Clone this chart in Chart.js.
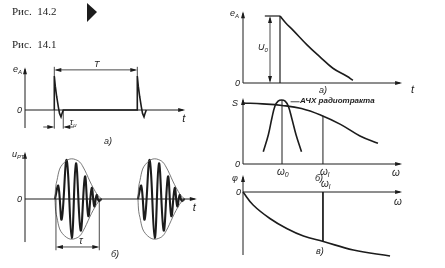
<!DOCTYPE html>
<html>
<head>
<meta charset="utf-8">
<script src="https://cdn.jsdelivr.net/npm/chart.js@4.4.1/dist/chart.umd.min.js"></script>
<style>
html, body { margin: 0; padding: 0; background: #fff; }
#wrap { position: relative; width: 445px; height: 268px; }
</style>
</head>
<body>
<div id="wrap"><canvas id="fig" width="445" height="268"></canvas></div>
<script>
// Рис. 14.1 а) - video pulses e_A(t), period T
const period = 10;
const pulseT = [3.53, 3.53, 3.65, 3.82, 4.01, 4.16, 4.34, 4.46, 4.61, 13.53, 13.53, 13.65, 13.82, 14.01, 14.16, 14.34, 14.46, 14.61];
const pulseE = [0, 1.0, 0.7, 0.39, 0.1, -0.1, -0.2, -0.1, 0, 0, 1.0, 0.7, 0.39, 0.1, -0.1, -0.2, -0.1, 0];
const pulseWidth = [3.53, 4.61];

// Рис. 14.1 б) - radio pulse u_PT(t): envelope and carrier (first pulse, repeats after T)
const envT = [3.61, 3.7, 3.85, 4.17, 4.5, 4.78, 5.2, 5.63, 6.1, 6.6, 7.0, 7.4, 7.8, 8.2, 8.8, 9.24];
const envA = [0, 0.3, 0.45, 0.73, 0.84, 0.9, 0.96, 0.98, 0.96, 0.9, 0.78, 0.62, 0.44, 0.28, 0.08, 0];
const carT = [3.61, 4.01, 4.42, 5.02, 5.63, 6.14, 6.71, 7.23, 7.63, 8.04, 8.35, 8.64, 8.88, 9.24];
const carA = [0, 0.32, -0.5, 0.95, -0.95, 0.87, -0.77, 0.55, -0.42, 0.27, -0.18, 0.1, -0.05, 0];
const tauRange = [3.73, 8.95];

// Рис. 14.2 а) - detector output e_A(t)
const topT = [0.59, 1.0];
const topE = [1, 1];
const decayT = [1.0, 1.15, 1.35, 1.73, 2.08, 2.43, 2.81, 2.97];
const decayE = [1.0, 0.9, 0.79, 0.57, 0.39, 0.22, 0.10, 0.04];
const stepT = 1.0;
const u0At = 0.73;

// Рис. 14.2 б) - S(ω) and АЧХ радиотракта
const omega0 = 1.0;
const omegaL = 2.05;
const sOmega = [0, 0.5, 1, 1.5, 2, 2.5, 3, 3.46];
const sValue = [1.0, 0.985, 0.96, 0.91, 0.8, 0.65, 0.46, 0.34];
const bellOmega = [0.52, 0.65, 0.74, 0.82, 0.9, 0.99, 1.08, 1.16, 1.25, 1.36, 1.5];
const bellValue = [0.2, 0.48, 0.75, 0.95, 1.03, 1.05, 1.03, 0.95, 0.75, 0.48, 0.2];

// Рис. 14.2 в) - phase φ(ω)
const phiOmega = [0, 0.26, 0.69, 1.12, 1.55, 2.06, 2.83, 3.77];
const phiValue = [0, -0.26, -0.53, -0.73, -0.88, -0.99, -1.16, -1.28];

const W = 445, H = 268;
const ink = '#1c1c1c';

// scale limits so that value v0 lands on pixel p0 and v1 on p1
function fitX(v0, p0, v1, p1) {
    const k = (p1 - p0) / (v1 - v0);
    return { min: v0 - p0 / k, max: v0 + (W - p0) / k };
}
function fitY(v0, p0, v1, p1) {
    const k = (p0 - p1) / (v1 - v0);
    return { min: v0 - (H - p0) / k, max: v0 + p0 / k };
}
function lin(lim) {
    return Object.assign({ type: 'linear', display: false, bounds: 'data' }, lim);
}
const pts = (xs, ys, dx = 0, sy = 1) => xs.map((x, i) => ({ x: x + dx, y: ys[i] * sy }));

function line(data, xAxisID, yAxisID, width, color, tension) {
    return { data, xAxisID, yAxisID, borderColor: color || ink, borderWidth: width || 1.5,
        tension: tension || 0, pointRadius: 0, fill: false };
}

const datasets = [
    line(pts(pulseT, pulseE), 'xa', 'ya', 1.6),
    line(pts(envT, envA), 'xa', 'yb', 0.8, '#555', 0.4),
    line(pts(envT, envA, 0, -1), 'xa', 'yb', 0.8, '#555', 0.4),
    line(pts(envT, envA, period), 'xa', 'yb', 0.8, '#555', 0.4),
    line(pts(envT, envA, period, -1), 'xa', 'yb', 0.8, '#555', 0.4),
    line(pts(carT, carA), 'xa', 'yb', 2.1, ink, 0.4),
    line(pts(carT, carA, period), 'xa', 'yb', 2.1, ink, 0.4),
    line(pts(topT, topE), 'xc', 'yc', 1.2),
    line([{ x: stepT, y: 0 }, { x: stepT, y: 1 }], 'xc', 'yc', 1.2),
    line(pts(decayT, decayE), 'xc', 'yc', 1.6, ink, 0.4),
    line(pts(sOmega, sValue), 'xd', 'yd', 1.6, ink, 0.4),
    line(pts(bellOmega, bellValue), 'xd', 'yd', 1.6, ink, 0.4),
    line([{ x: omega0, y: 0 }, { x: omega0, y: 1.05 }], 'xd', 'yd', 1),
    line([{ x: omegaL, y: 0 }, { x: omegaL, y: 0.79 }], 'xd', 'yd', 1),
    line(pts(phiOmega, phiValue), 'xd', 'ye', 1.6, ink, 0.4),
    line([{ x: omegaL, y: 0 }, { x: omegaL, y: -0.99 }], 'xd', 'ye', 1)
];

// axis extents in data units
const axes = [
    { x: 'xa', y: 'ya', xTo: 19.3, yFrom: -0.53, yTo: 1.26 },
    { x: 'xa', y: 'yb', xTo: 20.7, yFrom: -1.05, yTo: 1.15 },
    { x: 'xc', y: 'yc', xTo: 4.3, yFrom: 0, yTo: 1.07 },
    { x: 'xd', y: 'yd', xTo: 4.08, yFrom: 0, yTo: 1.08 },
    { x: 'xd', y: 'ye', xTo: 4.08, yFrom: -1.26, yTo: 0.34 }
];

const figurePlugin = {
    id: 'figure',
    afterDatasetsDraw(chart) {
        const ctx = chart.ctx;
        const s = chart.scales;
        const P = (id, v) => s[id].getPixelForValue(v);
        ctx.save();
        ctx.strokeStyle = ink;
        ctx.fillStyle = ink;
        ctx.lineWidth = 1;

        const seg = (x1, y1, x2, y2, w) => {
            ctx.lineWidth = w || 1;
            ctx.beginPath(); ctx.moveTo(x1, y1); ctx.lineTo(x2, y2); ctx.stroke();
        };
        const head = (x, y, dir) => {
            const L = 7, h = 2;
            ctx.beginPath();
            if (dir === 'up') { ctx.moveTo(x, y); ctx.lineTo(x - h, y + L); ctx.lineTo(x + h, y + L); }
            if (dir === 'down') { ctx.moveTo(x, y); ctx.lineTo(x - h, y - L); ctx.lineTo(x + h, y - L); }
            if (dir === 'right') { ctx.moveTo(x, y); ctx.lineTo(x - L, y - h); ctx.lineTo(x - L, y + h); }
            if (dir === 'left') { ctx.moveTo(x, y); ctx.lineTo(x + L, y - h); ctx.lineTo(x + L, y + h); }
            ctx.closePath(); ctx.fill();
        };
        const text = (str, x, y, size, sub, style) => {
            ctx.font = (style || 'italic ') + size + 'px "Liberation Sans"';
            ctx.textBaseline = 'middle';
            ctx.textAlign = 'left';
            ctx.fillText(str, x, y);
            if (sub) {
                const w = ctx.measureText(str).width;
                ctx.font = (style || 'italic ') + Math.round(size * 0.7) + 'px "Liberation Sans"';
                ctx.fillText(sub, x + w, y + 3);
            }
        };

        // axes with arrows
        axes.forEach(a => {
            const ox = P(a.x, 0), oy = P(a.y, 0);
            const yb = P(a.y, a.yFrom), yt = P(a.y, a.yTo), xr = P(a.x, a.xTo);
            seg(ox, yb, ox, yt + 2);
            head(ox, yt, 'up');
            seg(ox, oy, xr - 2, oy);
            head(xr, oy, 'right');
        });

        // panel а) of 14.1: T and τи dimensions
        const tA = P('xa', pulseWidth[0]), tB = P('xa', pulseWidth[0] + period), tC = P('xa', pulseWidth[1]);
        const yT = P('ya', 1.18);
        seg(tA, P('ya', 1.0), tA, P('ya', 1.27), 0.8);
        seg(tB, P('ya', 1.0), tB, P('ya', 1.27), 0.8);
        seg(tA + 2, yT, tB - 2, yT, 0.8);
        head(tA, yT, 'left'); head(tB, yT, 'right');
        text('T', P('xa', 8.3), yT - 5, 9);
        const yTi = P('ya', -0.5);
        seg(tA, P('ya', 0), tA, P('ya', -0.55), 0.8);
        seg(tC, P('ya', 0), tC, P('ya', -0.55), 0.8);
        seg(P('xa', 2.2), yTi, tA - 2, yTi, 0.8); head(tA, yTi, 'right');
        seg(P('xa', 5.9), yTi, tC + 2, yTi, 0.8); head(tC, yTi, 'left');
        text('τ', P('xa', 5.4), yTi - 5, 9, 'и');
        text('e', P('xa', 0) - 12, P('ya', 1.2), 9, 'A');
        text('0', P('xa', 0) - 8, P('ya', 0), 9);
        text('t', P('xa', 19.3) - 3, P('ya', 0) + 9, 11, null, '');
        text('а)', 104, 141, 9);

        // panel б) of 14.1: τ dimension
        const r1 = P('xa', tauRange[0]), r2 = P('xa', tauRange[1]), yTau = P('yb', -1.17);
        seg(r1, P('yb', 0), r1, P('yb', -1.25), 0.8);
        seg(r2, P('yb', 0), r2, P('yb', -1.25), 0.8);
        seg(r1 + 2, yTau, r2 - 2, yTau, 0.8);
        head(r1, yTau, 'left'); head(r2, yTau, 'right');
        text('τ', P('xa', 6.5), yTau - 6, 10);
        text('u', P('xa', 0) - 13, P('yb', 1.08), 9, 'РТ');
        text('0', P('xa', 0) - 8, P('yb', 0), 9);
        text('t', P('xa', 20.7) - 4, P('yb', 0) + 9, 11, null, '');
        text('б)', 111, 254, 9);

        // panel а) of 14.2: U0 double arrow
        const ux = P('xc', u0At);
        seg(ux, P('yc', 0) - 2, ux, P('yc', 1) + 2, 0.8);
        head(ux, P('yc', 1), 'up'); head(ux, P('yc', 0), 'down');
        text('U', ux - 12, P('yc', 0.53), 9, '0');
        text('e', P('xc', 0) - 13, P('yc', 1.04), 9, 'A');
        text('0', P('xc', 0) - 8, P('yc', 0), 9);
        text('t', 411, 90, 11, null, '');
        text('а)', 319, 90, 9);

        // panel б) of 14.2
        text('S', P('xd', 0) - 11, P('yd', 1.0), 9);
        text('0', P('xd', 0) - 8, P('yd', 0), 9);
        text('ω', P('xd', omega0) - 5, P('yd', 0) + 8, 10, '0');
        text('ω', P('xd', omegaL) - 3, P('yd', 0) + 8, 10, 'l');
        text('ω', P('xd', 4.08) - 10, P('yd', 0) + 9, 10);
        seg(P('xd', 1.22), P('yd', 1.02), P('xd', 1.45), P('yd', 1.02), 0.8);
        text('АЧХ радиотракта', P('xd', 1.46), P('yd', 1.03), 8, null, 'italic bold ');
        text('б)', 315, 178, 9);

        // panel в) of 14.2
        text('φ', P('xd', 0) - 11, P('ye', 0.27), 9);
        text('0', P('xd', 0) - 7, P('ye', 0), 9);
        text('ω', P('xd', omegaL) - 2, P('ye', 0) - 8, 10, 'l');
        text('ω', P('xd', 4.08) - 8, P('ye', 0) + 10, 10);
        text('в)', 316, 251, 9);

        // captions
        ctx.font = '11px "Liberation Serif"';
        ctx.textBaseline = 'alphabetic';
        ctx.fillText('Рис.  14.2', 12, 15);
        ctx.fillText('Рис.  14.1', 12, 48);
        ctx.beginPath(); ctx.moveTo(87, 3); ctx.lineTo(97, 12); ctx.lineTo(87, 22); ctx.closePath(); ctx.fill();
        ctx.restore();
    }
};

const chart = new Chart(document.getElementById('fig'), {
    type: 'line',
    data: { datasets },
    options: {
        responsive: false,
        animation: false,
        devicePixelRatio: 1,
        events: [],
        layout: { padding: 0 },
        plugins: { legend: { display: false }, tooltip: { enabled: false } },
        scales: {
            xa: lin(fitX(0, 25, period, 108)),
            ya: lin(fitY(0, 110, 1, 76)),
            yb: lin(fitY(0, 199, 1, 158)),
            xc: lin(fitX(0, 243, 1, 280)),
            yc: lin(fitY(0, 83, 1, 16)),
            xd: lin(fitX(0, 243, 1, 282)),
            yd: lin(fitY(0, 164, 1, 103)),
            ye: lin(fitY(0, 192, -1, 242))
        }
    },
    plugins: [figurePlugin]
});
</script>
</body>
</html>
